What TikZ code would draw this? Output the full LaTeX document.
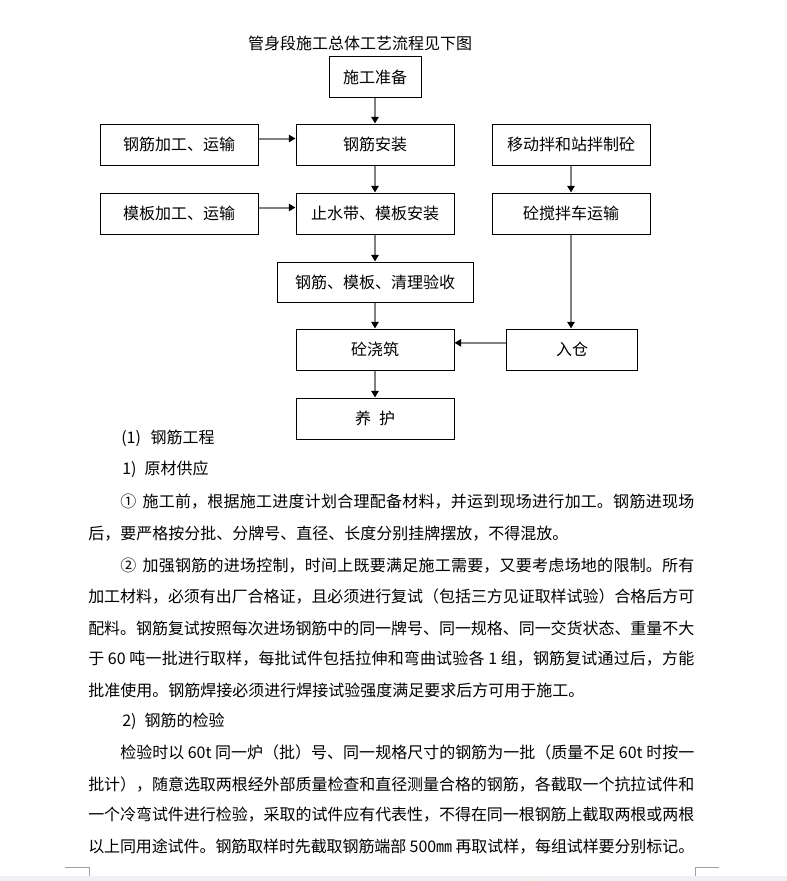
\documentclass[tikz,border=0pt]{standalone}
\usepackage{fontspec}
\usetikzlibrary{arrows.meta}
\newfontfamily\cjk{Noto Sans CJK SC}
\newcommand\zh{\cjk\fontsize{12pt}{15pt}\selectfont}
\XeTeXlinebreaklocale "zh"
\XeTeXlinebreakskip=0pt plus 1.5pt minus 0.5pt
\newcommand\jfull[1]{\noindent\parfillskip=0pt\relax#1\par}
\definecolor{pagegap}{HTML}{EEF0F3}
\definecolor{markgray}{HTML}{A0A0A0}
\tikzset{
  box/.style={draw, line width=0.75pt, inner sep=0pt, minimum width=118.5pt, minimum height=30.75pt, font=\zh},
  arr/.style={draw=black!50, line width=1.5pt, -{Triangle[length=5pt, width=5.5pt, black]}},
  tline/.style={anchor=west, inner sep=0pt, font=\zh},
  jline/.style={anchor=west, inner sep=0pt, font=\zh, text width=454.5pt, align=justify},
  jind/.style={jline, text width=430.5pt}
}
\begin{document}
\begin{tikzpicture}[x=0.75pt, y=-0.75pt]
\useasboundingbox (0,0) rectangle (787,881);
\node[font=\zh, inner sep=0pt] (title) at (360,43) {管身段施工总体工艺流程见下图};
\node[box, minimum width=69pt, minimum height=30pt] (prep) at (375,77) {施工准备};
\node[box] (rebarproc) at (179,144.5) {钢筋加工、运输};
\node[box] (rebarinst) at (375,144.5) {钢筋安装};
\node[box] (plant) at (571,144.5) {移动拌和站拌制砼};
\node[box] (formproc) at (179,213.5) {模板加工、运输};
\node[box] (forminst) at (375,213.5) {止水带、模板安装};
\node[box] (truck) at (571,213.5) {砼搅拌车运输};
\node[box, minimum width=147pt, minimum height=30pt] (check) at (375,282) {钢筋、模板、清理验收};
\node[box] (pour) at (375,349.5) {砼浇筑};
\node[box, minimum width=98.25pt] (silo) at (572,349.5) {入仓};
\node[box] (cure) at (375,418.5) {养\hspace{0.5em}护};

\draw[arr] (prep.south) -- (rebarinst.north);
\draw[arr] ([yshift=4.5pt]rebarproc.east) -- ([yshift=4.5pt]rebarinst.west);
\draw[arr] (rebarinst.south) -- (forminst.north);
\draw[arr] ([yshift=4.5pt]formproc.east) -- ([yshift=4.5pt]forminst.west);
\draw[arr] (forminst.south) -- (check.north);
\draw[arr] (check.south) -- (pour.north);
\draw[arr] (pour.south) -- (cure.north);
\draw[arr] (plant.south) -- (truck.north);
\draw[arr] (truck.south) -- (truck.south |- silo.north);
\draw[arr] ([yshift=5pt]silo.west) -- ([yshift=5pt]pour.east);

\node[tline] (l1) at (121,438) {(1)\hspace{0.6em}钢筋工程};
\node[tline] (l2) at (122,469) {1)\hspace{0.5em}原材供应};
\node[jind] (l3) at (120,502) {\jfull{①\hspace{0.4em}施工前，根据施工进度计划合理配备材料，并运到现场进行加工。钢筋进现场}};
\node[tline] (l4) at (88,534) {后，要严格按分批、分牌号、直径、长度分别挂牌摆放，不得混放。};
\node[jind] (l5) at (120,566) {\jfull{②\hspace{0.4em}加强钢筋的进场控制，时间上既要满足施工需要，又要考虑场地的限制。所有}};
\node[jline] (l6) at (88,597) {\jfull{加工材料，必须有出厂合格证，且必须进行复试（包括三方见证取样试验）合格后方可}};
\node[jline] (l7) at (88,628) {\jfull{配料。钢筋复试按照每次进场钢筋中的同一牌号、同一规格、同一交货状态、重量不大}};
\node[jline] (l8) at (88,659) {\jfull{于 60 吨一批进行取样，每批试件包括拉伸和弯曲试验各 1 组，钢筋复试通过后，方能}};
\node[tline] (l9) at (88,690) {批准使用。钢筋焊接必须进行焊接试验强度满足要求后方可用于施工。};
\node[tline] (l10) at (122,721) {2)\hspace{0.5em}钢筋的检验};
\node[jind] (l11) at (120,752) {\jfull{检验时以 60t 同一炉（批）号、同一规格尺寸的钢筋为一批（质量不足 60t 时按一}};
\node[jline] (l12) at (88,784) {\jfull{批计），随意选取两根经外部质量检查和直径测量合格的钢筋，各截取一个抗拉试件和}};
\node[jline] (l13) at (88,815) {\jfull{一个冷弯试件进行检验，采取的试件应有代表性，不得在同一根钢筋上截取两根或两根}};
\node[jline] (l14) at (88,847) {\jfull{以上同用途试件。钢筋取样时先截取钢筋端部 500㎜ 再取试样，每组试样要分别标记。}};

\fill[pagegap] (0,876) rectangle (787,881);
\fill[pagegap!80!black!20] (522,879) rectangle (543,881);
\draw[markgray, line width=0.75pt] (65,867) -- (89.5,867) -- (89.5,876);
\draw[markgray, line width=0.75pt] (718.5,867) -- (695,867) -- (695,876);
\end{tikzpicture}
\end{document}
